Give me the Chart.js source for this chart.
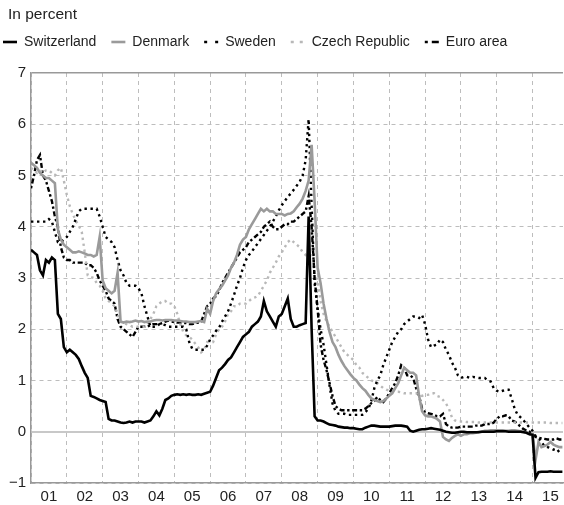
<!DOCTYPE html>
<html>
<head>
<meta charset="utf-8">
<script src="https://cdn.jsdelivr.net/npm/chart.js@4"></script>
<style>
  html, body { margin: 0; padding: 0; background: #fff; }
  #wrap { width: 564px; height: 505px; }
</style>
</head>
<body>
<div id="wrap"><canvas id="chart"></canvas></div>
<script>
// 3-month money market rates, monthly readings Jan 2001 - Nov 2015
const years = [2001, 2002, 2003, 2004, 2005, 2006, 2007, 2008, 2009, 2010, 2011, 2012, 2013, 2014, 2015];
const yearLabels = ['01', '02', '03', '04', '05', '06', '07', '08', '09', '10', '11', '12', '13', '14', '15'];
const months = Array.from({ length: 179 }, (_, i) => 2001 + i / 12);

const switzerland = [
    3.55, 3.5, 3.45, 3.15, 3.05, 3.35, 3.3, 3.4, 3.35, 2.3, 2.2, 1.65,
    1.55, 1.6, 1.55, 1.5, 1.42, 1.28, 1.15, 1.05, 0.7, 0.68, 0.65, 0.62,
    0.6, 0.58, 0.25, 0.22, 0.22, 0.2, 0.18, 0.17, 0.18, 0.2, 0.18, 0.2,
    0.2, 0.2, 0.18, 0.2, 0.22, 0.3, 0.4, 0.32, 0.45, 0.62, 0.65, 0.7,
    0.72, 0.73, 0.72, 0.73, 0.72, 0.73, 0.72, 0.72, 0.73, 0.72, 0.74, 0.76,
    0.78, 0.9, 1.05, 1.2, 1.25, 1.32, 1.4, 1.45, 1.55, 1.65, 1.75, 1.85,
    1.9, 1.95, 2.05, 2.1, 2.15, 2.25, 2.55, 2.35, 2.25, 2.15, 2.05, 2.25,
    2.3, 2.45, 2.6, 2.2, 2.05, 2.05, 2.08, 2.1, 2.12, 4.2, 2.0, 0.3,
    0.22, 0.22, 0.2, 0.17, 0.14, 0.13, 0.12, 0.1, 0.09, 0.08, 0.08, 0.07,
    0.07, 0.06, 0.05, 0.05, 0.08, 0.1, 0.12, 0.12, 0.11, 0.1, 0.1, 0.1,
    0.1, 0.11, 0.12, 0.12, 0.12, 0.11, 0.1, 0.02, 0.0, 0.02, 0.04, 0.05,
    0.05, 0.06, 0.07, 0.06, 0.05, 0.04, 0.02, 0.0, -0.01, -0.02, -0.02, -0.01,
    0.0, 0.0, -0.01, -0.01, -0.01, -0.01, -0.01, 0.0, 0.0, 0.0, 0.0, 0.0,
    0.01, 0.01, 0.01, 0.01, 0.0, 0.0, 0.0, 0.0, 0.0, -0.01, -0.02, -0.05,
    -0.06, -0.9, -0.79, -0.78, -0.78, -0.78, -0.77, -0.78, -0.78, -0.78, -0.78
];
const denmark = [
    5.25, 5.2, 5.15, 5.05, 5.0, 4.95, 4.95, 4.9, 4.85, 3.95, 3.75, 3.65,
    3.6, 3.55, 3.5, 3.5, 3.52, 3.5, 3.48, 3.45, 3.45, 3.42, 3.45, 3.8,
    2.95, 2.8, 2.75, 2.7, 2.75, 3.1, 2.15, 2.13, 2.15, 2.14, 2.15, 2.17,
    2.15, 2.16, 2.14, 2.15, 2.15, 2.17, 2.18, 2.18, 2.17, 2.18, 2.18, 2.18,
    2.17, 2.17, 2.16, 2.15, 2.15, 2.14, 2.14, 2.14, 2.15, 2.16, 2.14, 2.4,
    2.3, 2.55, 2.7, 2.78, 2.85, 2.95, 3.05, 3.2, 3.3, 3.45, 3.65, 3.75,
    3.8, 3.95, 4.05, 4.15, 4.25, 4.35, 4.3, 4.35, 4.3, 4.3, 4.25, 4.25,
    4.25, 4.22, 4.25, 4.26, 4.3, 4.38, 4.45, 4.55, 4.7, 4.9, 5.6, 4.5,
    3.2, 2.9, 2.5, 2.2, 1.95, 1.75, 1.65, 1.5, 1.38, 1.28, 1.2, 1.12,
    1.05, 1.0, 0.92, 0.85, 0.8, 0.72, 0.65, 0.62, 0.6, 0.58, 0.6, 0.65,
    0.7, 0.75, 0.85, 0.95, 1.1, 1.25, 1.2, 1.15, 1.15, 1.1, 0.7, 0.4,
    0.32, 0.3, 0.3, 0.28, 0.25, 0.2, -0.1, -0.15, -0.18, -0.12, -0.08, -0.05,
    -0.08, -0.05, -0.05, -0.03, -0.03, -0.02, 0.0, 0.0, 0.02, 0.02, 0.03, 0.03,
    0.03, 0.03, 0.03, 0.02, 0.02, 0.03, 0.03, 0.02, 0.01, 0.0, -0.02, -0.05,
    -0.05, -0.55, -0.2, -0.3, -0.28, -0.25, -0.2, -0.25, -0.28, -0.3, -0.3
];
const sweden = [
    4.1, 4.1, 4.1, 4.1, 4.1, 4.1, 4.15, 4.1, 3.9, 3.7, 3.7, 3.75,
    3.8, 3.9, 4.0, 4.15, 4.3, 4.35, 4.35, 4.35, 4.35, 4.35, 4.35, 4.2,
    4.0, 3.8, 3.75, 3.7, 3.6, 3.35, 3.15, 3.05, 2.9, 2.85, 2.85, 2.85,
    2.8, 2.7, 2.45, 2.25, 2.05, 2.05, 2.05, 2.1, 2.1, 2.08, 2.05, 2.05,
    2.05, 2.05, 2.05, 2.05, 2.0, 1.75, 1.62, 1.6, 1.6, 1.6, 1.6, 1.68,
    1.8, 1.88, 1.97, 2.03, 2.15, 2.25, 2.35, 2.5, 2.67, 2.85, 3.0, 3.2,
    3.35, 3.45, 3.52, 3.6, 3.68, 3.76, 3.84, 3.92, 4.0, 4.1, 4.2, 4.32,
    4.42, 4.5, 4.58, 4.65, 4.72, 4.8, 4.88, 5.0, 5.3, 6.1, 4.4, 2.9,
    2.4, 2.0, 1.7, 1.3, 0.9, 0.55, 0.4, 0.35, 0.35, 0.35, 0.33, 0.33,
    0.33, 0.33, 0.33, 0.33, 0.38, 0.45, 0.6, 0.85, 1.0, 1.1, 1.3, 1.45,
    1.6, 1.75, 1.85, 1.95, 2.0, 2.1, 2.15, 2.2, 2.25, 2.25, 2.22, 2.28,
    2.1, 1.8, 1.65, 1.68, 1.7, 1.8, 1.75, 1.6, 1.5, 1.35, 1.25, 1.1,
    1.05, 1.07, 1.07, 1.05, 1.07, 1.06, 1.05, 1.05, 1.05, 1.0, 0.98, 0.85,
    0.8, 0.78, 0.8, 0.82, 0.82, 0.65, 0.45, 0.33, 0.28, 0.22, 0.15, 0.08,
    0.02, -0.08, -0.12, -0.2, -0.28, -0.3, -0.32, -0.35, -0.33, -0.4, -0.4
];
const czechRepublic = [
    5.15, 5.1, 5.05, 5.1, 5.05, 5.1, 5.1, 5.05, 5.0, 5.1, 5.15, 4.9,
    4.62, 4.4, 4.25, 4.12, 4.02, 3.9, 3.5, 3.05, 3.02, 3.0, 2.9, 2.85,
    2.75, 2.6, 2.55, 2.5, 2.45, 2.3, 2.15, 2.12, 2.1, 2.08, 2.05, 2.05,
    2.05, 2.05, 2.05, 2.1, 2.2, 2.3, 2.45, 2.5, 2.55, 2.55, 2.5, 2.5,
    2.45, 2.3, 2.1, 1.95, 1.88, 1.85, 1.8, 1.72, 1.65, 1.55, 1.6, 1.75,
    1.75, 1.75, 1.9, 2.0, 2.05, 2.15, 2.3, 2.35, 2.45, 2.45, 2.5, 2.5,
    2.5, 2.55, 2.6, 2.62, 2.65, 2.75, 2.85, 2.95, 3.1, 3.2, 3.3, 3.42,
    3.5, 3.6, 3.7, 3.75, 3.7, 3.65, 3.6, 3.5, 3.45, 3.55, 3.6, 3.1,
    2.95, 2.55, 2.3, 2.15, 2.05, 1.95, 1.85, 1.75, 1.65, 1.55, 1.5, 1.45,
    1.4, 1.3, 1.25, 1.15, 1.1, 1.05, 1.0, 0.98, 0.95, 0.9, 0.85, 0.82,
    0.8, 0.8, 0.78, 0.78, 0.77, 0.75, 0.75, 0.75, 0.75, 0.75, 0.72, 0.7,
    0.72, 0.72, 0.75, 0.75, 0.7, 0.68, 0.62, 0.55, 0.45, 0.28, 0.22, 0.2,
    0.2, 0.2, 0.19, 0.19, 0.19, 0.19, 0.18, 0.18, 0.18, 0.18, 0.18, 0.18,
    0.18, 0.18, 0.18, 0.18, 0.18, 0.18, 0.18, 0.18, 0.18, 0.18, 0.18, 0.18,
    0.18, 0.18, 0.18, 0.18, 0.18, 0.18, 0.17, 0.17, 0.17, 0.17, 0.17
];
const euroArea = [
    4.75, 5.0, 5.3, 5.4, 5.0, 4.9, 4.7, 4.5, 4.2, 4.0, 3.6, 3.4,
    3.35, 3.35, 3.3, 3.3, 3.3, 3.3, 3.3, 3.25, 3.25, 3.2, 3.1, 2.95,
    2.85, 2.75, 2.6, 2.55, 2.5, 2.2, 2.05, 2.0, 1.95, 1.9, 1.85, 1.95,
    2.05, 2.05, 2.05, 2.05, 2.08, 2.1, 2.1, 2.1, 2.12, 2.15, 2.17, 2.15,
    2.14, 2.13, 2.13, 2.12, 2.12, 2.1, 2.1, 2.12, 2.13, 2.15, 2.3, 2.45,
    2.5, 2.6, 2.65, 2.75, 2.9, 3.0, 3.1, 3.2, 3.3, 3.4, 3.5, 3.55,
    3.6, 3.7, 3.75, 3.8, 3.85, 3.9, 4.0, 4.05, 4.1, 4.0, 3.95, 3.95,
    4.0, 4.05, 4.05, 4.1, 4.1, 4.15, 4.2, 4.25, 4.3, 4.6, 4.0, 3.0,
    2.4, 1.7, 1.4, 1.2, 0.95, 0.7, 0.5, 0.45, 0.42, 0.42, 0.42, 0.42,
    0.42, 0.42, 0.42, 0.42, 0.45, 0.5, 0.56, 0.6, 0.68, 0.62, 0.58, 0.65,
    0.75, 0.85, 0.95, 1.1, 1.3, 1.25, 1.1, 1.1, 1.05, 0.85, 0.7, 0.45,
    0.38, 0.36, 0.35, 0.33, 0.3, 0.3, 0.35, 0.15, 0.1, 0.08, 0.08, 0.08,
    0.1, 0.1, 0.1, 0.1, 0.1, 0.12, 0.12, 0.12, 0.15, 0.15, 0.15, 0.18,
    0.25, 0.3, 0.3, 0.32, 0.3, 0.22, 0.2, 0.15, 0.1, 0.05, 0.02, 0.0,
    -0.05, -0.1, -0.12, -0.13, -0.14, -0.15, -0.15, -0.15, -0.13, -0.15, -0.15
];

const toPoints = values => values.map((v, i) => ({ x: months[i], y: v }));

Chart.defaults.font.family = '"Liberation Sans", Arial, sans-serif';
Chart.defaults.color = '#222';

// pushes the legend row to the left edge and leaves room below it
const legendLayout = {
    id: 'legendLayout',
    beforeInit(chart) {
        const fit = chart.legend.fit;
        chart.legend.fit = function () {
            fit.call(this);
            this.height += 14;
        };
    },
    afterLayout(chart) {
        chart.legend.left -= 20;
    }
};

const series = [
    { label: 'Switzerland', data: toPoints(switzerland), borderColor: '#000', borderWidth: 2.6, borderDash: [], legendDash: [] },
    { label: 'Denmark', data: toPoints(denmark), borderColor: '#9a9a9a', borderWidth: 2.6, borderDash: [], legendDash: [] },
    { label: 'Sweden', data: toPoints(sweden), borderColor: '#000', borderWidth: 2.4, borderDash: [2.4, 3.6], legendDash: [3, 8] },
    { label: 'Czech Republic', data: toPoints(czechRepublic), borderColor: '#b8b8b8', borderWidth: 2.4, borderDash: [2.4, 3.6], legendDash: [3, 6] },
    { label: 'Euro area', data: toPoints(euroArea), borderColor: '#000', borderWidth: 2.4, borderDash: [2.4, 2.6, 5, 2.6], legendDash: [3, 4, 7, 10] }
];

new Chart(document.getElementById('chart'), {
    type: 'line',
    data: { datasets: series.map(s => ({ ...s, pointRadius: 0, tension: 0, fill: false })) },
    options: {
        responsive: true,
        maintainAspectRatio: false,
        animation: false,
        layout: { padding: { left: 8, right: 1, top: 0, bottom: 0 } },
        plugins: {
            tooltip: { enabled: false },
            title: {
                display: true,
                text: 'In percent',
                align: 'start',
                font: { size: 15.5, weight: 'normal' },
                color: '#222',
                padding: { top: 5.7, bottom: -4.3 }
            },
            legend: {
                align: 'start',
                labels: {
                    usePointStyle: true,
                    pointStyleWidth: 14,
                    padding: 15,
                    font: { size: 14 },
                    color: '#222',
                    generateLabels: chart => chart.data.datasets.map((ds, i) => ({
                        text: ds.label,
                        strokeStyle: ds.borderColor,
                        fillStyle: ds.borderColor,
                        lineWidth: 2.6,
                        lineDash: ds.legendDash,
                        pointStyle: 'line',
                        fontColor: '#222',
                        hidden: false,
                        datasetIndex: i
                    }))
                }
            }
        },
        scales: {
            x: {
                type: 'linear',
                min: 2001,
                max: 2015.85,
                afterBuildTicks: axis => { axis.ticks = years.map(y => ({ value: y + 0.5 })); },
                afterFit: axis => { axis.height = 22; },
                ticks: {
                    padding: 5,
                    maxRotation: 0,
                    autoSkip: false,
                    font: { size: 15 },
                    color: '#222',
                    callback: (v, i) => yearLabels[i]
                },
                grid: { offset: true, drawTicks: false, color: '#bdbdbd', lineWidth: 1 },
                border: { color: '#999', width: 1.5, dash: [4, 4] }
            },
            y: {
                min: -1,
                max: 7,
                afterFit: axis => { axis.width = 23; },
                ticks: {
                    stepSize: 1,
                    padding: 5,
                    font: { size: 15 },
                    color: '#222',
                    callback: v => (v < 0 ? '\u2212' + Math.abs(v) : String(v))
                },
                grid: {
                    drawTicks: false,
                    color: ctx => (ctx.tick && ctx.tick.value === 7 ? '#999' : ctx.tick && ctx.tick.value === 0 ? '#c8c8c8' : '#bdbdbd'),
                    lineWidth: ctx => (ctx.tick && ctx.tick.value === 0 ? 2 : ctx.tick && ctx.tick.value === 7 ? 1.5 : 1)
                },
                border: {
                    color: '#999',
                    width: 1.5,
                    dash: ctx => (ctx.tick && (ctx.tick.value === 0 || ctx.tick.value === 7) ? [] : [4, 4])
                }
            }
        }
    },
    plugins: [legendLayout]
});
</script>
</body>
</html>
